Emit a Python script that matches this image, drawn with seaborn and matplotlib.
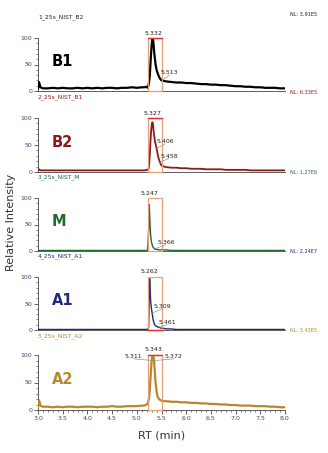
import matplotlib
matplotlib.use("Agg")
import matplotlib.pyplot as plt
from matplotlib.patches import Rectangle
from matplotlib.ticker import MultipleLocator, FormatStrFormatter
import seaborn as sns

sns.set_style("ticks")
plt.rcParams['font.family'] = ['DejaVu Sans']

# ---------------- data ----------------
RT = [3.00, 3.02, 3.05, 3.10,
      3.2, 3.3, 3.4, 3.5, 3.6, 3.7, 3.8, 3.9, 4.0, 4.1,
      4.2, 4.3, 4.4, 4.5, 4.6, 4.7, 4.8, 4.9, 5.0, 5.1,
      5.15, 5.20, 5.22, 5.24,
      5.25, 5.26, 5.27, 5.28, 5.29, 5.30, 5.31, 5.32, 5.33, 5.34, 5.35, 5.36, 5.37, 5.38,
      5.40, 5.42, 5.44, 5.46, 5.48, 5.50, 5.55, 5.60,
      5.7, 5.8, 5.9, 6.0, 6.1, 6.2, 6.3, 6.4, 6.5, 6.6, 6.7, 6.8,
      6.9, 7.0, 7.1, 7.2, 7.3, 7.4, 7.5, 7.6, 7.7, 7.8, 7.9, 8.0]

B1 = [4, 17, 7, 5,
      5, 6, 5, 6, 5, 5, 6, 5, 6, 5,
      6, 5, 6, 6, 5, 6, 6, 7, 6, 7,
      7, 8, 6, 12,
      18, 26, 40, 58, 72, 85, 95, 100, 96, 88, 76, 66, 58, 50,
      40, 34, 29, 25, 22, 20, 19, 18,
      17, 16, 16, 15, 15, 14, 13, 13, 12, 12, 11, 11,
      10, 9, 9, 8, 8, 7, 7, 6, 6, 6, 5, 5]

B2 = [4, 5, 3, 3,
      3, 3, 3, 3, 3, 3, 3, 3, 3, 3,
      3, 3, 3, 3, 3, 3, 3, 3, 3, 3,
      3, 4, 4, 6,
      14, 28, 45, 62, 76, 86, 91, 92, 86, 76, 68, 62, 56, 52,
      44, 34, 26, 20, 15, 12, 10, 9,
      8, 8, 7, 7, 6, 6, 6, 5, 5, 5, 5, 4,
      4, 4, 4, 4, 3, 3, 3, 3, 3, 3, 3, 3]

M = [1, 1, 1, 1,
     1, 1, 1, 1, 1, 1, 1, 1, 1, 1,
     1, 1, 1, 1, 1, 1, 1, 1, 1, 1,
     1, 1, 2, 40,
     88, 70, 45, 30, 22, 16, 12, 9, 7, 6, 5, 4, 4, 3,
     3, 3, 2, 2, 2, 2, 2, 2,
     1, 1, 1, 1, 1, 1, 1, 1, 1, 1, 1, 1,
     1, 1, 1, 1, 1, 1, 1, 1, 1, 1, 1, 1]

A1 = [1, 1, 1, 1,
      1, 1, 1, 1, 1, 1, 1, 1, 1, 1,
      1, 1, 1, 1, 1, 1, 1, 1, 1, 1,
      1, 1, 1, 5,
      60, 97, 75, 55, 45, 38, 32, 26, 20, 16, 13, 11, 9, 8,
      7, 6, 5, 5, 4, 3, 3, 2,
      2, 1, 1, 1, 1, 1, 1, 1, 1, 1, 1, 1,
      1, 1, 1, 1, 1, 1, 1, 1, 1, 1, 1, 1]

A2 = [5, 18, 8, 6,
      6, 5, 6, 5, 6, 6, 5, 6, 6, 6,
      5, 6, 6, 7, 6, 6, 7, 7, 7, 8,
      8, 10, 12, 18,
      24, 34, 48, 62, 76, 88, 95, 99, 100, 96, 88, 76, 62, 50,
      34, 25, 21, 19, 18, 17, 16, 16,
      15, 15, 14, 14, 13, 13, 12, 12, 11, 11, 10, 10,
      9, 9, 8, 8, 8, 7, 7, 7, 6, 6, 5, 5]

SERIES = [B1, B2, M, A1, A2]
NAMES = ["B1", "B2", "M", "A1", "A2"]
FILES = ["1_25s_NIST_B2", "2_25s_NIST_B1", "3_25s_NIST_M", "4_25s_NIST_A1", "5_25s_NIST_A2"]
NL = ["NL: 3.91E5", "NL: 6.33E5", "NL: 1.27E6", "NL: 2.24E7", "NL: 3.43E5"]
# peak labels: (text, label x, label y, point x, point y)
PEAKS = [
    [("5.332", 5.332, 104, None, None), ("5.513", 5.66, 30, 5.513, 20)],
    [("5.327", 5.327, 104, None, None), ("5.406", 5.57, 52, 5.406, 44), ("5.458", 5.65, 25, 5.458, 18)],
    [("5.247", 5.247, 104, None, None), ("5.366", 5.59, 12, 5.366, 4)],
    [("5.262", 5.262, 106, None, None), ("5.309", 5.52, 40, 5.309, 32), ("5.461", 5.62, 10, 5.461, 5)],
    [("5.343", 5.343, 106, None, None), ("5.311", 4.94, 93, 5.311, 90), ("5.372", 5.75, 93, 5.372, 90)],
]

COLORS = ["#000000", "#8b1a1a", "#1e6b2e", "#1f2a7a", "#b8862b"]
LWS = [1.6, 1.3, 1.0, 1.0, 1.6]

# ---------------- layout (pixels) ----------------
W, H = 328, 453
fig = plt.figure(figsize=(W / 100, H / 100), dpi=100)
tops = [38, 118, 198, 277, 355]
bots = [91, 172, 251, 330, 410]
x0, x1 = 38, 285
title_y = [17, 97, 177, 256, 336]
nl_y = [15, 93, 173, 251, 330]

tick_col = "#3a4670"
for i in range(5):
    ax = fig.add_axes([x0 / W, 1 - bots[i] / H, (x1 - x0) / W, (bots[i] - tops[i]) / H])
    col = COLORS[i]
    sns.lineplot(x=RT, y=SERIES[i], ax=ax, color=col, lw=LWS[i], estimator=None, zorder=3)
    ax.set_xlim(3.0, 8.0)
    ax.set_ylim(0, 100)
    for s in ["top", "right"]:
        ax.spines[s].set_visible(False)
    for s in ["left", "bottom"]:
        ax.spines[s].set_linewidth(0.6)
        ax.spines[s].set_color("#444444")
    ax.yaxis.set_major_locator(MultipleLocator(50))
    ax.yaxis.set_minor_locator(MultipleLocator(10))
    ax.tick_params(axis="y", which="major", length=3, width=0.5, labelsize=4.5,
                   labelcolor=tick_col, pad=1)
    ax.tick_params(axis="y", which="minor", length=1.5, width=0.4)
    if i < 4:
        ax.tick_params(axis="x", which="both", bottom=False, labelbottom=False)
    else:
        ax.xaxis.set_major_locator(MultipleLocator(0.5))
        ax.xaxis.set_minor_locator(MultipleLocator(0.1))
        ax.xaxis.set_major_formatter(FormatStrFormatter("%.1f"))
        ax.tick_params(axis="x", which="major", length=3, width=0.5, labelsize=4.5,
                       labelcolor=tick_col, pad=1.5)
        ax.tick_params(axis="x", which="minor", length=1.5, width=0.4)
    ax.set_xlabel("")
    ax.set_ylabel("")
    ax.patch.set_alpha(0)

    # highlight box
    rect = Rectangle((5.225, 0), 0.285, 100, fill=False, edgecolor="#e8a07a",
                     lw=0.9, zorder=4, clip_on=False)
    ax.add_patch(rect)
    if i in (0, 1, 4):
        ax.plot([5.225, 5.51], [100, 100], color="#e0302a", lw=1.0, zorder=5, clip_on=False)
    if i == 3:
        ax.plot([5.225, 5.51], [0, 0], color="#e0302a", lw=1.0, zorder=5, clip_on=False)

    # big sample label
    ax.text(3.28, 55, NAMES[i], color=col, fontsize=10.5, fontweight="bold",
            ha="left", va="center")

    # peak labels
    for (t, lx, ly, px, py) in PEAKS[i]:
        ax.text(lx, ly, t, fontsize=4.5, color="#222222", ha="center", va="bottom",
                zorder=6, clip_on=False)
        if px is not None:
            ax.plot([px, lx], [py, ly], color="#8a9a8a", lw=0.5, zorder=5, clip_on=False)

    # file titles and NL
    fig.text(x0 / W, 1 - title_y[i] / H, FILES[i], color=col if i > 0 else "#222222",
             fontsize=4.3, ha="left", va="center")
    fig.text(290 / W, 1 - nl_y[i] / H, NL[i], color=col if i > 0 else "#222222",
             fontsize=3.6, ha="left", va="center")

fig.text(11 / W, 1 - 222 / H, "Relative Intensity", rotation=90, fontsize=8,
         color="#333333", ha="center", va="center")
fig.text(162 / W, 1 - 435 / H, "RT (min)", fontsize=8, color="#333333",
         ha="center", va="center")

fig.savefig("out.png", dpi=100, facecolor="white")
